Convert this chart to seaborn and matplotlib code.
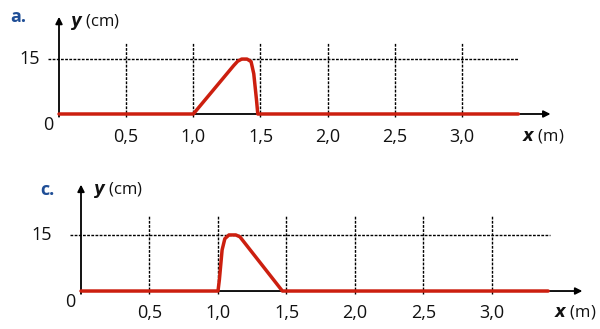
import seaborn as sns
import pandas as pd
import matplotlib.pyplot as plt

sns.set_theme(style="white")
plt.rcParams['font.family'] = ['Open Sans', 'DejaVu Sans']

# wave profile a.
xa = [0, 1.0, 1.05, 1.30, 1.33, 1.36, 1.40, 1.43, 1.45, 1.47, 1.48, 3.42]
ya = [0, 0, 2.2, 13.2, 14.4, 15, 15, 14.3, 11, 4, 0, 0]
# wave profile c.
xc = [0, 1.0, 1.01, 1.03, 1.05, 1.08, 1.13, 1.16, 1.47, 3.41]
yc = [0, 0, 3, 11, 14, 15, 15, 14.5, 0, 0]

ticks = [0.5, 1.0, 1.5, 2.0, 2.5, 3.0]
tick_labels = ["0,5", "1,0", "1,5", "2,0", "2,5", "3,0"]

red = '#cc1f0f'
blue = '#1f4e96'

fig = plt.figure(figsize=(6, 3.29), dpi=100)

# axes placed so both panels line up with the reference
ax_a = fig.add_axes([59/600, (329-120)/329, 501/600, 110/329])
ax_c = fig.add_axes([81/600, (329-297)/329, 511/600, 117/329])

panels = [
    (ax_a, xa, ya, (-1.64, 28.4), 27.3, 19.6, "a.", -0.14, (0.08, 25.0), -6.3),
    (ax_c, xc, yc, (-1.6, 29.7), 29.2, 20.4, "c.", -0.21, (0.09, 27.0), -5.9),
]

for ax, xs, ys, ylim, ytip, gtop, name, lab15, ylabpos, ylab_tick in panels:
    ax.set_xlim(0, 3.73)
    ax.set_ylim(*ylim)

    # dotted grid
    for t in ticks:
        ax.plot([t, t], [-0.9, gtop], color='black', lw=1.0,
                ls=(0, (2, 1)), clip_on=False)
    ax.plot([-0.08, 3.42], [15, 15], color='black', lw=1.0,
            ls=(0, (2, 1)), clip_on=False)

    # axes arrows
    ax.annotate('', xy=(3.68, 0), xytext=(0, 0),
                arrowprops=dict(arrowstyle='-|>', color='black', lw=1.3,
                                mutation_scale=10), annotation_clip=False)
    ax.annotate('', xy=(0, ytip), xytext=(0, -1.5),
                arrowprops=dict(arrowstyle='-|>', color='black', lw=1.3,
                                mutation_scale=10), annotation_clip=False)

    df = pd.DataFrame({'x': xs, 'y': ys})
    sns.lineplot(data=df, x='x', y='y', ax=ax, color=red, lw=2.5,
                 sort=False, solid_joinstyle='round', clip_on=False, zorder=5)
    ax.axis('off')

    for t, lab in zip(ticks, tick_labels):
        ax.text(t, ylab_tick, lab, ha='center', va='center', fontsize=13,
                color='#111111', clip_on=False)
    ax.text(lab15, 15, "15", ha='right', va='center', fontsize=13, color='#111111')
    ax.text(-0.04, -3.0, "0", ha='right', va='center', fontsize=13, color='#111111')
    ax.text(3.45, ylab_tick + 0.4, r"$\mathbfit{x}$ (m)", ha='left', va='center',
            fontsize=12, color='#111111')
    ax.text(ylabpos[0], ylabpos[1], r"$\mathbfit{y}$ (cm)", ha='left', va='center',
            fontsize=12, color='#111111')

fig.text(10/600, 1 - 17/329, "a.", ha='left', va='center', fontsize=13,
         fontweight='bold', color=blue)
fig.text(40/600, 1 - 190/329, "c.", ha='left', va='center', fontsize=13,
         fontweight='bold', color=blue)

fig.savefig('out.png', dpi=100)
